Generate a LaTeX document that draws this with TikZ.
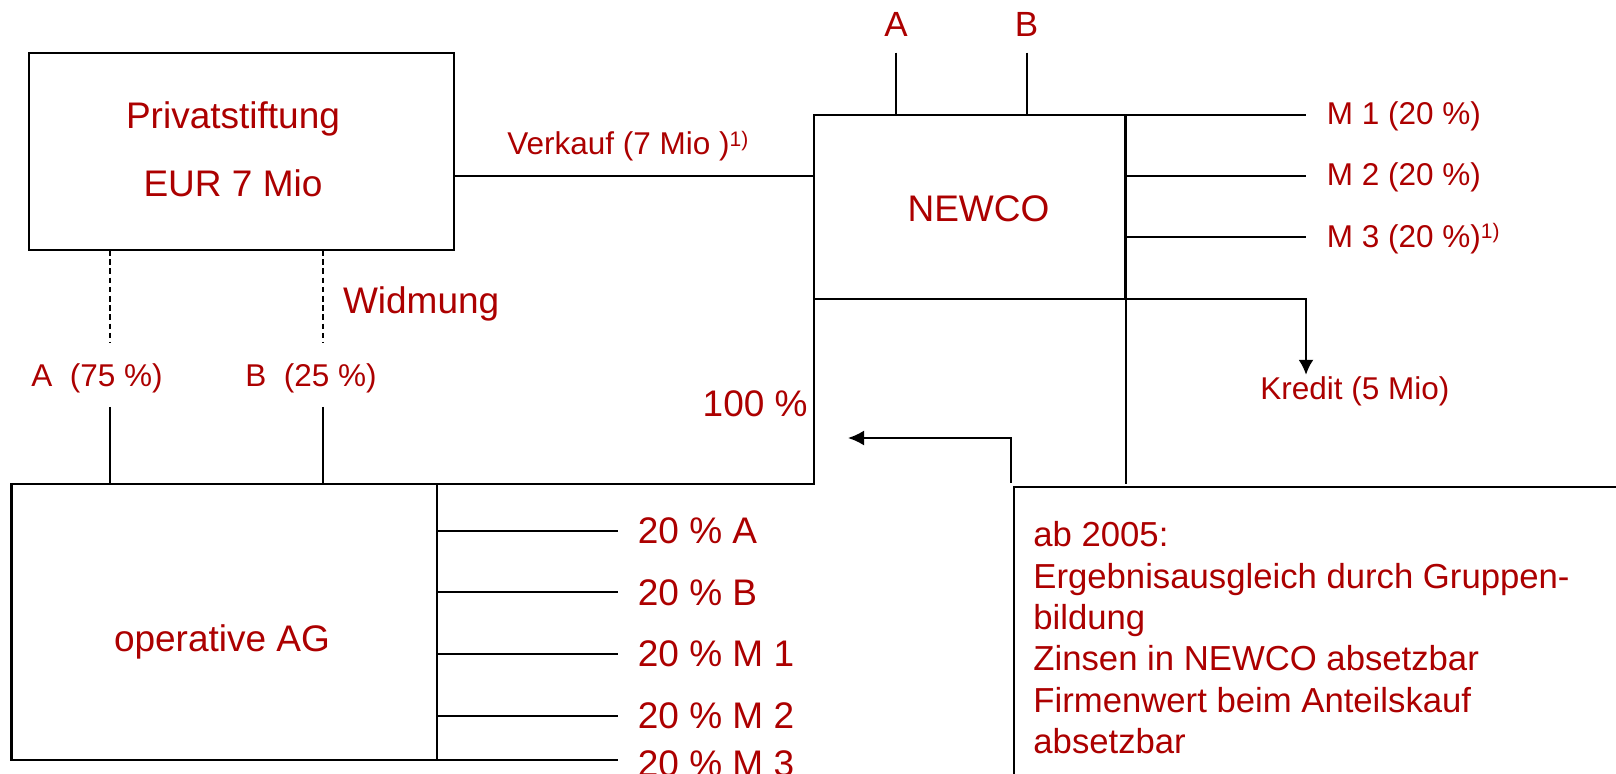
\documentclass[tikz,border=0pt]{standalone}
\usepackage{fontspec}
\setmainfont{Liberation Sans}
\usetikzlibrary{arrows.meta}
\definecolor{txtred}{RGB}{172,0,0}
\newcommand\suprl[1]{\raisebox{4.4pt}{\fontsize{10.5}{12}\selectfont #1}}
\begin{document}
\begin{tikzpicture}[x=0.5pt,y=-0.5pt,
  ln/.style={line width=1pt, black},
  dsh/.style={line width=0.8pt, black, dash pattern=on 2.8pt off 1.8pt},
  boxst/.style={draw, line width=1.1pt, inner sep=0, outer sep=0},
  big/.style={text=txtred, font=\fontsize{18.5}{22}\selectfont, inner sep=0},
  small/.style={text=txtred, font=\fontsize{15.75}{19}\selectfont, inner sep=0},
  mid/.style={text=txtred, font=\fontsize{17.5}{21}\selectfont, inner sep=0},
  note/.style={text=txtred, font=\fontsize{17.35}{20.65}\selectfont, inner sep=0, align=left},
  arr/.style={ln, -{Latex[length=8pt,width=7.5pt]}},
]
\clip (0,0) rectangle (1616,774);
\fill[white] (0,0) rectangle (1616,774);

% boxes
\node[boxst, minimum width=212.6pt, minimum height=98.35pt] (stift) at (241.4,151.65) {};
\node[big, anchor=base] (stift1) at (233,128.3) {Privatstiftung};
\node[big, anchor=base] (stift2) at (233,196.7) {EUR 7 Mio};

\node[boxst, minimum width=155.75pt, minimum height=92pt] (newco) at (969.75,207) {};
\node[big, anchor=base] (newcot) at (978.5,221.7) {NEWCO};

\node[boxst, minimum width=212.75pt, minimum height=138pt] (opag) at (224.25,622) {};
\node[big, anchor=base] (opagt) at (222,651.7) {operative AG};

% labels
\node[small, anchor=base west] (verk) at (507,155) {Verkauf (7 Mio )\suprl{1)}};
\node[small, anchor=base west] (a75) at (31,386.7) {A\ \ (75 \%)};
\node[small, anchor=base west] (b25) at (245,386.7) {B\ \ (25 \%)};
\node[big, anchor=base west] (widm) at (342.6,313.3) {Widmung};
\node[big, anchor=base east] (hundert) at (808,416.7) {100 \%};
\node[mid, anchor=base] (ta) at (896,36.7) {A};
\node[mid, anchor=base] (tb) at (1026.5,36.7) {B};
\node[small, anchor=base west] (m1) at (1326.5,125) {M 1 (20 \%)};
\node[small, anchor=base west] (m2) at (1326.5,186) {M 2 (20 \%)};
\node[small, anchor=base west] (m3) at (1326.5,247.3) {M 3 (20 \%)\suprl{1)}};
\node[small, anchor=base west] (kredit) at (1260,400) {Kredit (5 Mio)};
\node[big, anchor=base west] (p1) at (637.5,543.3) {20 \% A};
\node[big, anchor=base west] (p2) at (637.5,605) {20 \% B};
\node[big, anchor=base west] (p3) at (637.5,666.7) {20 \% M 1};
\node[big, anchor=base west] (p4) at (637.5,728.3) {20 \% M 2};
\node[big, anchor=base west] (p5) at (637.5,776.5) {20 \% M 3};
\node[note, anchor=base west] (notes) at (1033,753.3) {ab 2005:\\Ergebnisausgleich durch Gruppen-\\bildung\\Zinsen in NEWCO absetzbar\\Firmenwert beim Anteilskauf\\absetzbar};

% coordinates
\coordinate (mend) at (1306,0);
\coordinate (rb) at (1013.5,487);

% Privatstiftung -> NEWCO (Verkauf)
\draw[ln] (stift.east |- 0,176) -- (newco.west |- 0,176);

% Widmung lines
\draw[dsh] (stift.south -| 110,0) -- (110,343);
\draw[dsh] (stift.south -| 323,0) -- (323,343);
\draw[ln] (110,407) -- (opag.north -| 110,0);
\draw[ln] (323,407) -- (opag.north -| 323,0);

% operative AG top line up to NEWCO
\draw[ln] (opag.north west) -- (newco.west |- opag.north) -- (newco.north west);

% A, B above NEWCO
\draw[ln] ([yshift=-8pt]ta.base) -- (ta |- newco.north);
\draw[ln] ([yshift=-8pt]tb.base) -- (tb |- newco.north);

% M lines
\draw[ln] (newco.north west) -- (newco.north -| mend);
\draw[ln] (newco.east |- 0,176) -- (mend |- 0,176);
\draw[ln] (newco.east |- 0,237) -- (mend |- 0,237);
\draw[ln] (newco.north east) -- (newco.north east |- opag.north);

% Kredit arrow
\draw[ln, -{Latex[length=7.5pt,width=7.5pt]}] (newco.south west) -- (newco.south -| mend) -- ([yshift=1pt]kredit.north -| mend);

% operative AG share lines
\foreach \p in {p1,p2,p3,p4}{
  \draw[ln] (opag.east |- \p.west) -- ([xshift=-9.75pt]\p.west);
}
\draw[ln] (opag.south west) -- ([xshift=-9.75pt]p5.west |- opag.south);

% right box (open)
\draw[ln] (1616,487) -- (rb) -- (rb |- 0,774);

% arrow from right box to 100 %
\draw[arr] (1011,483) -- (1011,438) -- (848,438);
\end{tikzpicture}
\end{document}
